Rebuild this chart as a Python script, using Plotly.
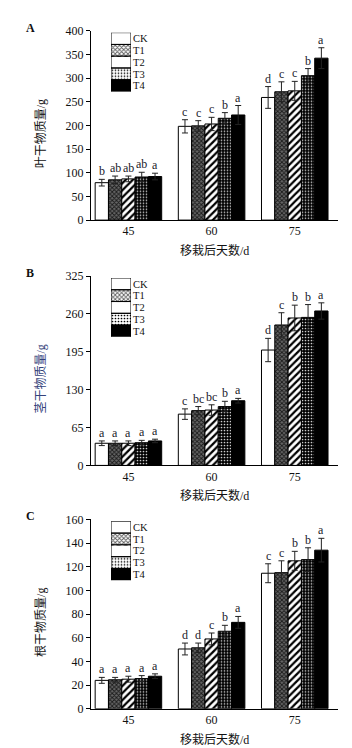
import plotly.graph_objects as go

W, H = 352, 748

days = ["45", "60", "75"]
treatments = ["CK", "T1", "T2", "T3", "T4"]

# Panel A: leaf dry matter (g)
leaf_vals = {
    "CK": [79, 198, 259],
    "T1": [85, 199, 271],
    "T2": [87, 203, 273],
    "T3": [91, 215, 305],
    "T4": [92, 222, 342],
}
leaf_err = {
    "CK": [7, 14, 23],
    "T1": [8, 11, 21],
    "T2": [6, 14, 20],
    "T3": [10, 12, 15],
    "T4": [7, 20, 22],
}
leaf_sig = {
    "CK": ["b", "c", "d"],
    "T1": ["ab", "c", "c"],
    "T2": ["ab", "c", "c"],
    "T3": ["ab", "b", "b"],
    "T4": ["a", "a", "a"],
}

# Panel B: stem dry matter (g)
stem_vals = {
    "CK": [38, 88, 198],
    "T1": [38, 94, 241],
    "T2": [38, 95, 253],
    "T3": [39, 101, 254],
    "T4": [42, 111, 265],
}
stem_err = {
    "CK": [4, 9, 20],
    "T1": [4, 7, 21],
    "T2": [4, 9, 22],
    "T3": [4, 9, 22],
    "T4": [3, 4, 14],
}
stem_sig = {
    "CK": ["a", "c", "d"],
    "T1": ["a", "bc", "c"],
    "T2": ["a", "bc", "b"],
    "T3": ["a", "b", "b"],
    "T4": ["a", "a", "a"],
}

# Panel C: root dry matter (g)
root_vals = {
    "CK": [24, 50.5, 114.5],
    "T1": [24.5, 51.5, 115],
    "T2": [25, 59, 125],
    "T3": [25.5, 65.5, 126],
    "T4": [27.5, 73, 134],
}
root_err = {
    "CK": [2.5, 5, 8],
    "T1": [2, 4, 10],
    "T2": [2.5, 5, 8],
    "T3": [2.5, 5, 10],
    "T4": [2, 5, 10],
}
root_sig = {
    "CK": ["a", "d", "c"],
    "T1": ["a", "d", "c"],
    "T2": ["a", "c", "b"],
    "T3": ["a", "b", "b"],
    "T4": ["a", "a", "a"],
}

panel_letters = ["A", "B", "C"]
y_titles = ["叶干物质量/g", "茎干物质量/g", "根干物质量/g"]
y_title_colors = ["#111111", "#34427a", "#111111"]
x_title = "移栽后天数/d"
y_ranges = [400, 325, 160]
y_dticks = [50, 65, 20]

# styles
styles = {
    "CK": dict(color="white", pattern=dict(shape="")),
    "T1": dict(color="#5e5e5e", pattern=dict(shape="x", bgcolor="#666666", fgcolor="#1a1a1a", size=3, solidity=0.5, fillmode="replace")),
    "T2": dict(color="white", pattern=dict(shape="/", bgcolor="white", fgcolor="black", size=5, solidity=0.45, fillmode="replace")),
    "T3": dict(color="black", pattern=dict(shape=".", bgcolor="black", fgcolor="#d0d0d0", size=3, solidity=0.25, fillmode="replace")),
    "T4": dict(color="black", pattern=dict(shape="")),
}

FONT = "Liberation Serif, Times New Roman, Noto Sans CJK SC, serif"

# pixel geometry (margins are zero so paper coords == pixels)
plot_left, plot_right = 83, 330
panel_tops = [16, 266, 514]
panel_bottoms = [209, 459, 707]


def py(p):
    return 1 - p / H


def px(p):
    return p / W


fig = go.Figure()
layout = dict(
    width=W, height=H,
    margin=dict(l=0, r=0, t=0, b=0),
    paper_bgcolor="white", plot_bgcolor="white",
    barmode="group", bargap=0.2, bargroupgap=0.0,
    showlegend=False,
    font=dict(family=FONT, size=12, color="#111111"),
)
annotations = []

datasets = [
    (leaf_vals, leaf_err, leaf_sig),
    (stem_vals, stem_err, stem_sig),
    (root_vals, root_err, root_sig),
]

xcat = [0, 1, 2]
n = len(treatments)
group_w = 0.8
bar_w = group_w / n

for pi, (vals, errs, sigs) in enumerate(datasets):
    k = pi + 1
    xa = "x" if k == 1 else f"x{k}"
    ya = "y" if k == 1 else f"y{k}"
    for ti, t in enumerate(treatments):
        st = styles[t]
        fig.add_trace(go.Bar(
            x=xcat, y=vals[t], name=t, xaxis=xa, yaxis=ya,
            marker=dict(color=st["color"], pattern=st["pattern"],
                        line=dict(color="black", width=1)),
            error_y=dict(type="data", array=errs[t], visible=True,
                         color="#222222", thickness=1, width=3),
        ))
        for ci in range(len(days)):
            xc = xcat[ci] - group_w / 2 + (ti + 0.5) * bar_w
            annotations.append(dict(
                x=xc, y=vals[t][ci] + errs[t][ci], xref=xa, yref=ya,
                text=sigs[t][ci], showarrow=False, yanchor="bottom",
                yshift=-1, font=dict(family=FONT, size=12, color="#1a1a2a"),
            ))
    top, bot = panel_tops[pi], panel_bottoms[pi]
    layout["xaxis" if k == 1 else f"xaxis{k}"] = dict(
        domain=[px(plot_left), px(plot_right)], anchor=ya,
        range=[-0.45, 2.52], tickvals=xcat, ticktext=days,
        showline=True, linecolor="black", linewidth=1, ticks="",
        showgrid=False, zeroline=False, fixedrange=True,
        tickfont=dict(family=FONT, size=12, color="#111111"),
    )
    layout["yaxis" if k == 1 else f"yaxis{k}"] = dict(
        domain=[py(bot), py(top)], anchor=xa,
        range=[0, y_ranges[pi]], dtick=y_dticks[pi], tick0=0,
        showline=True, linecolor="black", linewidth=1,
        ticks="outside", ticklen=4, tickcolor="black",
        showgrid=False, zeroline=False,
        tickfont=dict(family=FONT, size=12, color="#111111"),
    )
    # panel letter
    annotations.append(dict(
        x=px(22), y=py(top - 3), xref="paper", yref="paper",
        text=f"<b>{panel_letters[pi]}</b>", showarrow=False,
        xanchor="center", yanchor="middle",
        font=dict(family=FONT, size=12, color="#111111"),
    ))
    # y title
    annotations.append(dict(
        x=px(33), y=py((top + bot) / 2 + 9), xref="paper", yref="paper",
        text=y_titles[pi], textangle=-90, showarrow=False,
        xanchor="center", yanchor="middle",
        font=dict(family=FONT, size=12, color=y_title_colors[pi]),
    ))
    # x title
    annotations.append(dict(
        x=px((plot_left + plot_right) / 2), y=py(bot + 31), xref="paper", yref="paper",
        text=x_title, showarrow=False, xanchor="center", yanchor="middle",
        font=dict(family=FONT, size=12, color="#111111"),
    ))

    # legend drawn as a small inset bar axis
    lk = k + 3
    lxa, lya = f"x{lk}", f"y{lk}"
    fig.add_trace(go.Bar(
        x=[1] * n, y=treatments, orientation="h", xaxis=lxa, yaxis=lya,
        width=1, offset=-0.5,
        marker=dict(
            color=[styles[t]["color"] for t in treatments],
            pattern=dict(
                shape=[styles[t]["pattern"].get("shape", "") for t in treatments],
                bgcolor=[styles[t]["pattern"].get("bgcolor", styles[t]["color"]) for t in treatments],
                fgcolor=[styles[t]["pattern"].get("fgcolor", "black") for t in treatments],
                solidity=[styles[t]["pattern"].get("solidity", 0.3) for t in treatments],
                size=[styles[t]["pattern"].get("size", 3) for t in treatments],
                fillmode="replace",
            ),
            line=dict(color="black", width=1),
        ),
        hoverinfo="skip",
    ))
    layout[f"xaxis{lk}"] = dict(
        domain=[px(103), px(123)], anchor=lya, range=[0, 1],
        visible=False, fixedrange=True,
    )
    layout[f"yaxis{lk}"] = dict(
        domain=[py(top + 62), py(top + 2)], anchor=lxa, side="right",
        type="category", range=[4.5, -0.5],
        tickmode="array", tickvals=treatments, ticktext=treatments,
        showline=False, ticks="", showgrid=False,
        zeroline=False, ticklabelstandoff=1,
        tickfont=dict(family=FONT, size=10.5, color="#111111"),
    )

layout["annotations"] = annotations
fig.update_layout(**layout)
fig.write_html("out.html")
